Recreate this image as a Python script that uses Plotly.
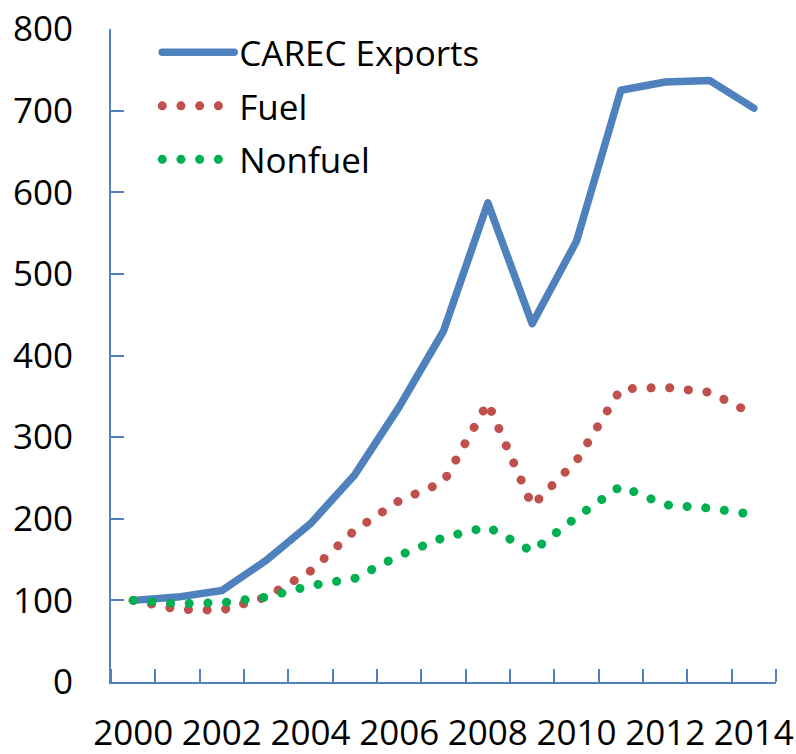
import plotly.graph_objects as go

years = list(range(2000, 2015))
carec_exports = [100, 104, 112, 149, 194, 254, 337, 430, 587, 439, 540, 725, 735, 737, 703]
fuel = [100, 89, 88, 104, 136, 186, 222, 245, 342, 216, 271, 359, 361, 355, 328]
nonfuel = [100, 96, 97, 104, 118, 127, 155, 177, 190, 160, 202, 240, 217, 213, 205]
x_tick_labels = [str(y) for y in range(2000, 2015, 2)]
y_tick_values = list(range(0, 801, 100))

BLUE = "#4F81BD"
RED = "#C0504D"
GREEN = "#00B050"
AXIS = "#4F81BD"
FONT = "Open Sans"

fig = go.Figure()
fig.add_trace(go.Scatter(x=years, y=carec_exports, name="CAREC Exports", mode="lines",
                         line=dict(color=BLUE, width=7.5), legendgroup="a"))
fig.add_trace(go.Scatter(x=years, y=fuel, name="Fuel", mode="lines",
                         line=dict(color=RED, width=9, dash="0.1px,18.6px"), legendgroup="b"))
fig.add_trace(go.Scatter(x=years, y=nonfuel, name="Nonfuel", mode="lines",
                         line=dict(color=GREEN, width=9, dash="0.1px,18.6px"), legendgroup="c"))

fig.update_layout(
    width=796, height=754,
    margin=dict(l=111, r=20, t=29, b=72),
    paper_bgcolor="white", plot_bgcolor="white",
    font=dict(family=FONT, size=35, color="black"),
    showlegend=True,
    legend=dict(x=0.0695, y=1.009, xanchor="left", yanchor="top", bgcolor="rgba(0,0,0,0)",
                font=dict(family=FONT, size=35, color="black"),
                itemwidth=72, tracegroupgap=5, traceorder="grouped"),
)
fig.update_xaxes(
    range=[1999.5, 2014.5], tickmode="array", tickvals=list(range(2000, 2015, 2)),
    ticktext=x_tick_labels, ticks="", showgrid=False, zeroline=False, automargin=False,
    showline=True, linecolor=AXIS, linewidth=2, ticklabelstandoff=19,
    minor=dict(tick0=1999.5, dtick=1, ticks="inside", ticklen=13, tickcolor=AXIS,
               tickwidth=2, showgrid=False),
)
fig.update_yaxes(
    range=[0, 800], tickmode="array", tickvals=y_tick_values, automargin=False,
    ticks="inside", ticklen=13, tickcolor=AXIS, tickwidth=2,
    showgrid=False, zeroline=False, showline=True, linecolor=AXIS, linewidth=2,
    ticklabelstandoff=29,
)

post = """
document.body.style.margin='0';
document.body.style.padding='0';
function fixCaps(){document.querySelectorAll('.js-line').forEach(function(p){p.style.strokeLinecap='round';p.style.strokeLinejoin='round';});}
fixCaps();
var gd=document.getElementById('{plot_id}');
if(gd && gd.on){gd.on('plotly_afterplot', fixCaps);}
setTimeout(fixCaps, 30);
"""
fig.write_html("out.html", post_script=post, config={"displayModeBar": False})
